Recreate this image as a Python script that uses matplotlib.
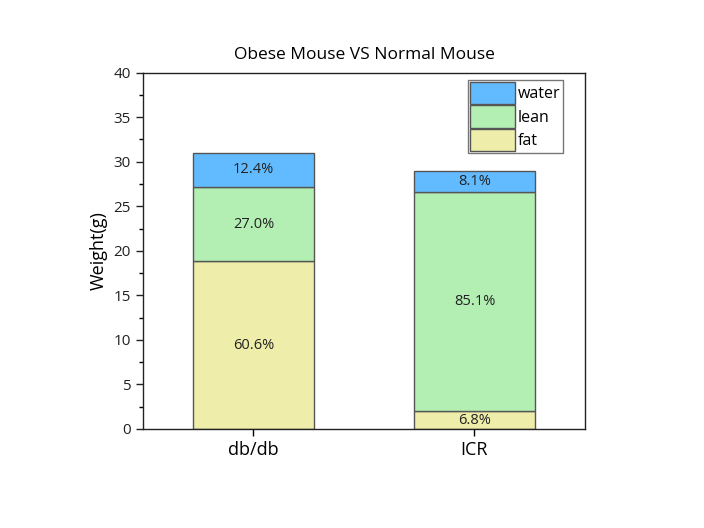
import matplotlib.pyplot as plt
from matplotlib.ticker import MultipleLocator

plt.rcParams['font.family'] = ['Open Sans', 'DejaVu Sans']

groups = ["db/db", "ICR"]
fat = [18.8, 1.97]
lean = [8.37, 24.68]
water = [3.84, 2.35]
fat_pct = ["60.6%", "6.8%"]
lean_pct = ["27.0%", "85.1%"]
water_pct = ["12.4%", "8.1%"]

colors = {"fat": "#EEEEAA", "lean": "#B3EEB3", "water": "#63BBFF"}
edge = "#555555"

fig = plt.figure(figsize=(7.04, 5.28), dpi=100)
ax = fig.add_axes([0.203, 0.1875, 0.628, 0.675])

x = [1, 2]
w = 0.55
b_fat = ax.bar(x, fat, w, color=colors["fat"], edgecolor=edge, linewidth=1, label="fat")
b_lean = ax.bar(x, lean, w, bottom=fat, color=colors["lean"], edgecolor=edge,
                linewidth=1, label="lean")
bottom_w = [f + l for f, l in zip(fat, lean)]
b_water = ax.bar(x, water, w, bottom=bottom_w, color=colors["water"], edgecolor=edge,
                 linewidth=1, label="water")

for i in range(2):
    ax.text(x[i], fat[i] / 2, fat_pct[i], ha="center", va="center", fontsize=10.5,
            color="#222222")
    ax.text(x[i], fat[i] + lean[i] / 2, lean_pct[i], ha="center", va="center",
            fontsize=10.5, color="#222222")
    ax.text(x[i], bottom_w[i] + water[i] / 2, water_pct[i], ha="center", va="center",
            fontsize=10.5, color="#222222")

ax.set_xlim(0.5, 2.5)
ax.set_ylim(0, 40)
ax.set_xticks(x)
ax.set_xticklabels(groups, fontsize=13)
ax.yaxis.set_major_locator(MultipleLocator(5))
ax.yaxis.set_minor_locator(MultipleLocator(2.5))
ax.tick_params(axis="y", labelsize=11, direction="out", length=5, width=1, colors="#222222")
ax.tick_params(axis="y", which="minor", direction="out", length=3, width=1)
ax.tick_params(axis="x", direction="out", length=5, width=1)
for s in ax.spines.values():
    s.set_linewidth(1)
    s.set_color("#222222")

ax.set_ylabel("Weight(g)", fontsize=13)
ax.set_title("Obese Mouse VS Normal Mouse", fontsize=12.5, pad=10)

leg = ax.legend(handles=[b_water, b_lean, b_fat], loc="upper right",
                bbox_to_anchor=(0.95, 0.98), fancybox=False, edgecolor=edge,
                fontsize=11.5, handlelength=2.8, handleheight=1.75, handletextpad=0.2,
                borderpad=0.15, labelspacing=0.08, borderaxespad=0)
leg.get_frame().set_linewidth(1)

fig.savefig("out.png", dpi=100)
